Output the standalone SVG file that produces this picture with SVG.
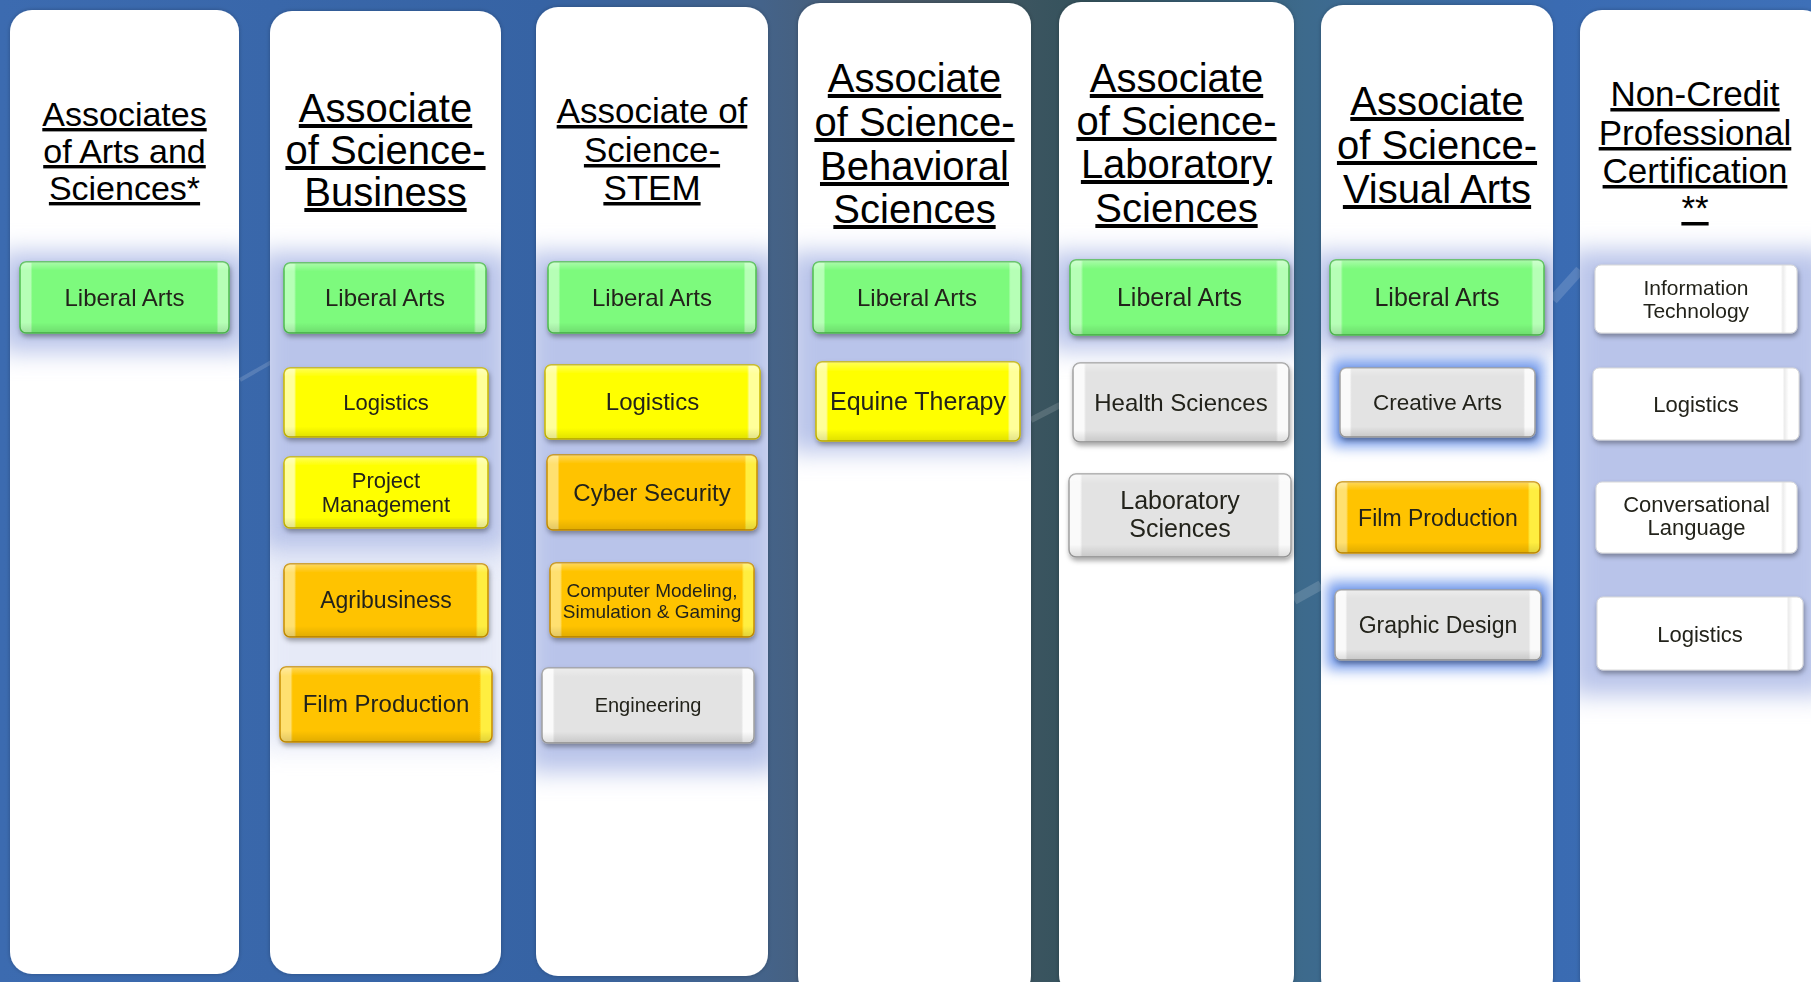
<svg xmlns="http://www.w3.org/2000/svg" width="1811" height="982" viewBox="0 0 1811 982">
<defs>
  <linearGradient id="bg" x1="0" y1="0" x2="1" y2="0">
    <stop offset="0" stop-color="#3c6bb0"/>
    <stop offset="0.3" stop-color="#3663a4"/>
    <stop offset="0.42" stop-color="#44638a"/>
    <stop offset="0.5" stop-color="#4a5a68"/>
    <stop offset="0.6" stop-color="#34525c"/>
    <stop offset="0.72" stop-color="#3d6a8c"/>
    <stop offset="0.86" stop-color="#3a6bb2"/>
    <stop offset="1" stop-color="#3e70b8"/>
  </linearGradient>
  <linearGradient id="gGreen" x1="0" y1="0" x2="1" y2="0">
    <stop offset="0" stop-color="#b6ffb6"/><stop offset="0.05" stop-color="#b6ffb6"/><stop offset="0.06" stop-color="#7dfa7d"/>
    <stop offset="0.94" stop-color="#7dfa7d"/><stop offset="0.95" stop-color="#b6ffb6"/><stop offset="1" stop-color="#b6ffb6"/>
  </linearGradient>
  <linearGradient id="gYellow" x1="0" y1="0" x2="1" y2="0">
    <stop offset="0" stop-color="#ffff9a"/><stop offset="0.05" stop-color="#ffff9a"/><stop offset="0.06" stop-color="#ffff00"/>
    <stop offset="0.94" stop-color="#ffff00"/><stop offset="0.95" stop-color="#ffff9a"/><stop offset="1" stop-color="#ffff9a"/>
  </linearGradient>
  <linearGradient id="gOrange" x1="0" y1="0" x2="1" y2="0">
    <stop offset="0" stop-color="#ffe070"/><stop offset="0.05" stop-color="#ffe070"/><stop offset="0.06" stop-color="#ffc300"/>
    <stop offset="0.94" stop-color="#ffc300"/><stop offset="0.95" stop-color="#ffee40"/><stop offset="1" stop-color="#ffee40"/>
  </linearGradient>
  <linearGradient id="gGray" x1="0" y1="0" x2="1" y2="0">
    <stop offset="0" stop-color="#fafafa"/><stop offset="0.05" stop-color="#fafafa"/><stop offset="0.06" stop-color="#e3e3e3"/>
    <stop offset="0.94" stop-color="#e3e3e3"/><stop offset="0.95" stop-color="#fafafa"/><stop offset="1" stop-color="#fafafa"/>
  </linearGradient>
  <linearGradient id="gWhite" x1="0" y1="0" x2="1" y2="0">
    <stop offset="0" stop-color="#ffffff"/><stop offset="0.92" stop-color="#ffffff"/><stop offset="0.93" stop-color="#ececec"/>
    <stop offset="0.95" stop-color="#ffffff"/><stop offset="1" stop-color="#ffffff"/>
  </linearGradient>
  <linearGradient id="gShade" x1="0" y1="0" x2="0" y2="1">
    <stop offset="0" stop-color="#ffffff" stop-opacity="0.35"/>
    <stop offset="0.12" stop-color="#ffffff" stop-opacity="0"/>
    <stop offset="0.85" stop-color="#000000" stop-opacity="0"/>
    <stop offset="1" stop-color="#000000" stop-opacity="0.12"/>
  </linearGradient>
  <filter id="blur" x="-30%" y="-30%" width="160%" height="160%"><feGaussianBlur stdDeviation="12"/></filter>
  <filter id="blurS" x="-30%" y="-30%" width="160%" height="160%"><feGaussianBlur stdDeviation="7"/></filter>
  <filter id="shadow" x="-10%" y="-20%" width="120%" height="150%">
    <feDropShadow dx="1" dy="3" stdDeviation="2.5" flood-color="#000" flood-opacity="0.35"/>
  </filter>
  <filter id="colShadow" x="-5%" y="-5%" width="110%" height="110%">
    <feDropShadow dx="0" dy="0" stdDeviation="2" flood-color="#000" flood-opacity="0.25"/>
  </filter>
  <clipPath id="cc1"><rect x="10" y="10" width="229" height="964" rx="22"/></clipPath>
  <clipPath id="cc2"><rect x="270" y="11" width="231" height="963" rx="22"/></clipPath>
  <clipPath id="cc3"><rect x="536" y="7" width="232" height="969" rx="22"/></clipPath>
  <clipPath id="cc4"><rect x="798" y="3" width="233" height="995" rx="22"/></clipPath>
  <clipPath id="cc5"><rect x="1059" y="2" width="235" height="995" rx="22"/></clipPath>
  <clipPath id="cc6"><rect x="1321" y="5" width="232" height="995" rx="22"/></clipPath>
  <clipPath id="cc7"><rect x="1580" y="10" width="231" height="990" rx="22"/></clipPath>
</defs>
<style>
  .col { fill: #ffffff; filter: url(#colShadow); }
  .band { fill: #b9c4ea; filter: url(#blur); }
  .glow { fill: #6f98ec; filter: url(#blurS); }
  .hd { font-family: "Liberation Sans", Arial, sans-serif; fill: #000; text-anchor: middle; text-decoration: underline; text-decoration-thickness: 2px; text-underline-offset: 4px; }
  .bx { font-family: "Liberation Sans", Arial, sans-serif; fill: #24241a; text-anchor: middle; }
  .green { fill: url(#gGreen); stroke: #4fbf4f; stroke-width: 1.5; }
  .yellow { fill: url(#gYellow); stroke: #c9b800; stroke-width: 1.5; }
  .orange { fill: url(#gOrange); stroke: #c98f00; stroke-width: 1.5; }
  .gray { fill: url(#gGray); stroke: #a0a0a0; stroke-width: 1.5; }
  .white { fill: url(#gWhite); stroke: #d8d8d8; stroke-width: 1; }
  .shade { fill: url(#gShade); }
  .box { filter: url(#shadow); }
  .streak { stroke: #ffffff; stroke-opacity: 0.15; fill: none; }
</style>

<rect x="0" y="0" width="1811" height="982" fill="url(#bg)"/>
<g id="background-streaks">
  <path class="streak" d="M240 380 L275 360" stroke-width="4"/>
  <path class="streak" d="M1031 420 L1060 405" stroke-width="6"/>
  <path class="streak" d="M1294 600 L1321 585" stroke-width="10"/>
  <path class="streak" d="M1553 300 L1580 270" stroke-width="10"/>
</g>

<!-- Columns -->
<g id="column1">
  <rect class="col" x="10" y="10" width="229" height="964" rx="22"/>
  <g clip-path="url(#cc1)"><rect class="band" x="0" y="252" width="250" height="100"/></g>
  <text class="hd" font-size="34"><tspan x="124.5" y="126">Associates</tspan><tspan x="124.5" y="163">of Arts and</tspan><tspan x="124.5" y="200">Sciences*</tspan></text>
</g>
<g id="column2">
  <rect class="col" x="270" y="11" width="231" height="963" rx="22"/>
  <g clip-path="url(#cc2)">
    <rect class="band" x="260" y="252" width="250" height="300"/>
    <rect class="band" x="260" y="550" width="250" height="200" opacity="0.35"/>
  </g>
  <text class="hd" font-size="40"><tspan x="385.5" y="122">Associate</tspan><tspan x="385.5" y="164">of Science-</tspan><tspan x="385.5" y="206">Business</tspan></text>
</g>
<g id="column3">
  <rect class="col" x="536" y="7" width="232" height="969" rx="22"/>
  <g clip-path="url(#cc3)"><rect class="band" x="526" y="252" width="252" height="520"/></g>
  <text class="hd" font-size="35"><tspan x="652" y="123">Associate of</tspan><tspan x="652" y="162">Science-</tspan><tspan x="652" y="200">STEM</tspan></text>
</g>
<g id="column4">
  <rect class="col" x="798" y="3" width="233" height="995" rx="22"/>
  <g clip-path="url(#cc4)"><rect class="band" x="788" y="252" width="253" height="200"/></g>
  <text class="hd" font-size="40"><tspan x="914.5" y="92">Associate</tspan><tspan x="914.5" y="136">of Science-</tspan><tspan x="914.5" y="180">Behavioral</tspan><tspan x="914.5" y="223">Sciences</tspan></text>
</g>
<g id="column5">
  <rect class="col" x="1059" y="2" width="235" height="995" rx="22"/>
  <g clip-path="url(#cc5)"><rect class="band" x="1049" y="252" width="255" height="98"/></g>
  <text class="hd" font-size="40"><tspan x="1176.5" y="92">Associate</tspan><tspan x="1176.5" y="135">of Science-</tspan><tspan x="1176.5" y="178">Laboratory</tspan><tspan x="1176.5" y="222">Sciences</tspan></text>
</g>
<g id="column6">
  <rect class="col" x="1321" y="5" width="232" height="995" rx="22"/>
  <g clip-path="url(#cc6)">
    <rect class="band" x="1311" y="252" width="252" height="98"/>
    <rect class="glow" x="1332" y="360" width="211" height="86"/>
    <rect class="glow" x="1327" y="582" width="222" height="87"/>
  </g>
  <text class="hd" font-size="40"><tspan x="1437" y="115">Associate</tspan><tspan x="1437" y="159">of Science-</tspan><tspan x="1437" y="203">Visual Arts</tspan></text>
</g>
<g id="column7">
  <rect class="col" x="1580" y="10" width="245" height="990" rx="22"/>
  <g clip-path="url(#cc7)"><rect class="band" x="1570" y="250" width="260" height="445"/></g>
  <text class="hd" font-size="35"><tspan x="1695" y="106">Non-Credit</tspan><tspan x="1695" y="145">Professional</tspan><tspan x="1695" y="183">Certification</tspan><tspan x="1695" y="220">**</tspan></text>
</g>

<!-- Boxes: column 1 -->
<g id="c1-liberal-arts" class="box"><rect class="green" x="20" y="262" width="209" height="71" rx="6"/><rect class="shade" x="20" y="262" width="209" height="71" rx="6"/><text class="bx" font-size="24" x="124.5" y="306">Liberal Arts</text></g>

<!-- column 2 -->
<g id="c2-liberal-arts" class="box"><rect class="green" x="284" y="263" width="202" height="70" rx="6"/><rect class="shade" x="284" y="263" width="202" height="70" rx="6"/><text class="bx" font-size="24" x="385" y="306">Liberal Arts</text></g>
<g id="c2-logistics" class="box"><rect class="yellow" x="284" y="368" width="204" height="69" rx="6"/><rect class="shade" x="284" y="368" width="204" height="69" rx="6"/><text class="bx" font-size="22" x="386" y="410">Logistics</text></g>
<g id="c2-project-management" class="box"><rect class="yellow" x="284" y="457" width="204" height="71" rx="6"/><rect class="shade" x="284" y="457" width="204" height="71" rx="6"/><text class="bx" font-size="22"><tspan x="386" y="488">Project</tspan><tspan x="386" y="512">Management</tspan></text></g>
<g id="c2-agribusiness" class="box"><rect class="orange" x="284" y="564" width="204" height="73" rx="6"/><rect class="shade" x="284" y="564" width="204" height="73" rx="6"/><text class="bx" font-size="23" x="386" y="608">Agribusiness</text></g>
<g id="c2-film-production" class="box"><rect class="orange" x="280" y="667" width="212" height="75" rx="6"/><rect class="shade" x="280" y="667" width="212" height="75" rx="6"/><text class="bx" font-size="24" x="386" y="712">Film Production</text></g>

<!-- column 3 -->
<g id="c3-liberal-arts" class="box"><rect class="green" x="548" y="262" width="208" height="71" rx="6"/><rect class="shade" x="548" y="262" width="208" height="71" rx="6"/><text class="bx" font-size="24" x="652" y="306">Liberal Arts</text></g>
<g id="c3-logistics" class="box"><rect class="yellow" x="545" y="365" width="215" height="74" rx="6"/><rect class="shade" x="545" y="365" width="215" height="74" rx="6"/><text class="bx" font-size="24" x="652.5" y="410">Logistics</text></g>
<g id="c3-cyber-security" class="box"><rect class="orange" x="547" y="455" width="210" height="75" rx="6"/><rect class="shade" x="547" y="455" width="210" height="75" rx="6"/><text class="bx" font-size="24" x="652" y="501">Cyber Security</text></g>
<g id="c3-computer-modeling" class="box"><rect class="orange" x="550" y="563" width="204" height="74" rx="6"/><rect class="shade" x="550" y="563" width="204" height="74" rx="6"/><text class="bx" font-size="19"><tspan x="652" y="597">Computer Modeling,</tspan><tspan x="652" y="618">Simulation &amp; Gaming</tspan></text></g>
<g id="c3-engineering" class="box"><rect class="gray" x="542" y="668" width="212" height="75" rx="6"/><rect class="shade" x="542" y="668" width="212" height="75" rx="6"/><text class="bx" font-size="20" x="648" y="712" fill="#333">Engineering</text></g>

<!-- column 4 -->
<g id="c4-liberal-arts" class="box"><rect class="green" x="813" y="262" width="208" height="71" rx="6"/><rect class="shade" x="813" y="262" width="208" height="71" rx="6"/><text class="bx" font-size="24" x="917" y="306">Liberal Arts</text></g>
<g id="c4-equine-therapy" class="box"><rect class="yellow" x="816" y="362" width="204" height="79" rx="6"/><rect class="shade" x="816" y="362" width="204" height="79" rx="6"/><text class="bx" font-size="25" x="918" y="410">Equine Therapy</text></g>

<!-- column 5 -->
<g id="c5-liberal-arts" class="box"><rect class="green" x="1070" y="260" width="219" height="75" rx="6"/><rect class="shade" x="1070" y="260" width="219" height="75" rx="6"/><text class="bx" font-size="25" x="1179.5" y="306">Liberal Arts</text></g>
<g id="c5-health-sciences" class="box"><rect class="gray" x="1073" y="363" width="216" height="79" rx="7"/><rect class="shade" x="1073" y="363" width="216" height="79" rx="7"/><text class="bx" font-size="24" x="1181" y="411">Health Sciences</text></g>
<g id="c5-laboratory-sciences" class="box"><rect class="gray" x="1069" y="474" width="222" height="83" rx="7"/><rect class="shade" x="1069" y="474" width="222" height="83" rx="7"/><text class="bx" font-size="25"><tspan x="1180" y="509">Laboratory</tspan><tspan x="1180" y="537">Sciences</tspan></text></g>

<!-- column 6 -->
<g id="c6-liberal-arts" class="box"><rect class="green" x="1330" y="260" width="214" height="75" rx="6"/><rect class="shade" x="1330" y="260" width="214" height="75" rx="6"/><text class="bx" font-size="25" x="1437" y="306">Liberal Arts</text></g>
<g id="c6-creative-arts" class="box"><rect class="gray" x="1340" y="368" width="195" height="69" rx="6"/><rect class="shade" x="1340" y="368" width="195" height="69" rx="6"/><text class="bx" font-size="22.5" x="1437.5" y="410">Creative Arts</text></g>
<g id="c6-film-production" class="box"><rect class="orange" x="1336" y="482" width="204" height="71" rx="6"/><rect class="shade" x="1336" y="482" width="204" height="71" rx="6"/><text class="bx" font-size="23" x="1438" y="526">Film Production</text></g>
<g id="c6-graphic-design" class="box"><rect class="gray" x="1335" y="590" width="206" height="70" rx="6"/><rect class="shade" x="1335" y="590" width="206" height="70" rx="6"/><text class="bx" font-size="23" x="1438" y="633">Graphic Design</text></g>

<!-- column 7 -->
<g id="c7-information-technology" class="box"><rect class="white" x="1595" y="265" width="202" height="68" rx="6"/><text class="bx" font-size="21"><tspan x="1696" y="295">Information</tspan><tspan x="1696" y="318">Technology</tspan></text></g>
<g id="c7-logistics" class="box"><rect class="white" x="1593" y="368" width="206" height="72" rx="6"/><text class="bx" font-size="22" x="1696" y="412">Logistics</text></g>
<g id="c7-conversational-language" class="box"><rect class="white" x="1596" y="482" width="201" height="71" rx="6"/><text class="bx" font-size="22"><tspan x="1696.5" y="512">Conversational</tspan><tspan x="1696.5" y="535">Language</tspan></text></g>
<g id="c7-logistics-2" class="box"><rect class="white" x="1597" y="597" width="206" height="73" rx="6"/><text class="bx" font-size="22" x="1700" y="642">Logistics</text></g>

<g id="connectors"></g>
</svg>
